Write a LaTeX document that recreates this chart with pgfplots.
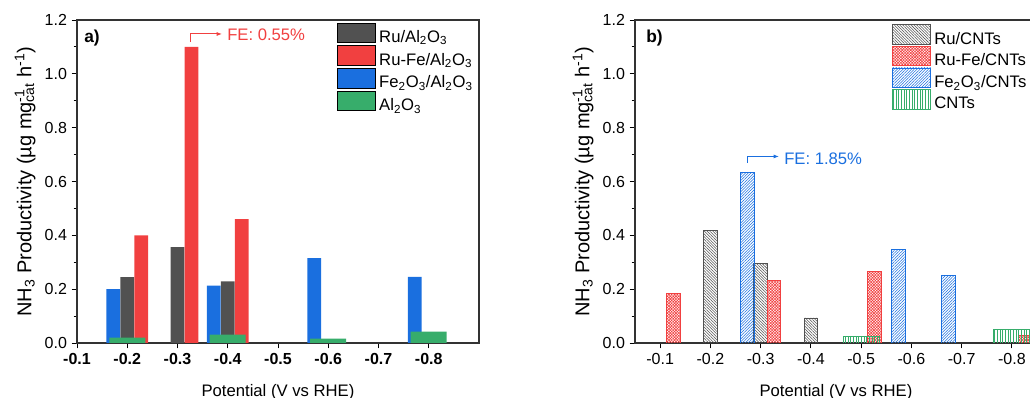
\documentclass[border=0pt]{standalone}
\usepackage{fontspec}
\setmainfont{Liberation Sans}
\usepackage{pgfplots}
\pgfplotsset{compat=1.18}
\usetikzlibrary{patterns.meta,arrows.meta}

\definecolor{cgray}{HTML}{515151}
\definecolor{cred}{HTML}{F14040}
\definecolor{cblue}{HTML}{1A6FDF}
\definecolor{cgreen}{HTML}{37AD6B}

\pgfplotsset{
  myaxis/.style={
    scale only axis, width=301.5pt, height=242.25pt,
    ymin=0, ymax=1.2, ytick={0,0.2,0.4,0.6,0.8,1.0,1.2}, minor y tick num=1,
    xtick={1,2,3,4,5,6,7,8},
    xticklabels={-0.1,-0.2,-0.3,-0.4,-0.5,-0.6,-0.7,-0.8},
    tick align=outside, xtick pos=bottom, ytick pos=left,
    major tick length=4pt, minor tick length=2.5pt,
    tick style={line width=0.7pt, black},
    axis line style={line width=0.8pt, black!80},
    /pgf/number format/assume math mode=true,
    yticklabel style={/pgf/number format/.cd, fixed, fixed zerofill, precision=1},
    ticklabel style={font=\fontsize{12}{14}\selectfont},
    xlabel={Potential (V vs RHE)},
    ylabel={NH\textsubscript{3} Productivity (µg mg\rlap{\textsuperscript{-1}}\textsubscript{cat} h\textsuperscript{-1})},
    xlabel style={font=\fontsize{12.5}{14}\selectfont, at={(axis description cs:0.5,-0.152)}, anchor=center},
    ylabel style={font=\fontsize{15}{17}\selectfont, at={(axis description cs:-0.129,0.5)}, anchor=center},
    legend cell align=left,
  },
  leg/.style={legend image code/.code={\draw[##1] (0pt,-3pt) rectangle (28.5pt,11.6pt);}},
}

\begin{document}
\begin{tikzpicture}
% ---------------- panel a ----------------
\begin{axis}[myaxis,
  at={(57.75pt,41.25pt)}, anchor=south west,
  xmin=1, xmax=9,
  xticklabel style={font=\bfseries\fontsize{12}{14}\selectfont},
  legend style={draw=none, fill=none, at={(0.647,0.993)}, anchor=north west,
    inner sep=0pt, row sep=-1.7pt, font=\fontsize{12.5}{14}\selectfont,
    nodes={inner xsep=2.5pt, inner ysep=0pt, text height=10pt, text depth=4pt}},
]
\addplot[ybar, bar width=10.3pt, bar shift=0pt, fill=cgray, draw=none, leg]
  coordinates {(2,0.245) (3,0.356) (4,0.229)};
\addlegendentry{Ru/Al\textsubscript{2}O\textsubscript{3}}
\addplot[ybar, bar width=10.3pt, bar shift=10.5pt, fill=cred, draw=none, leg]
  coordinates {(2,0.40) (3,1.10) (4,0.46)};
\addlegendentry{Ru-Fe/Al\textsubscript{2}O\textsubscript{3}}
\addplot[ybar, bar width=10.3pt, bar shift=-10.5pt, fill=cblue, draw=none, leg]
  coordinates {(2,0.20) (4,0.213) (6,0.315) (8,0.246)};
\addlegendentry{Fe\textsubscript{2}O\textsubscript{3}/Al\textsubscript{2}O\textsubscript{3}}
\addplot[ybar, bar width=27pt, bar shift=0pt, fill=cgreen, draw=none, leg]
  coordinates {(2,0.02) (4,0.031) (6,0.016) (8,0.042)};
\addlegendentry{Al\textsubscript{2}O\textsubscript{3}}
\node[anchor=west, inner sep=0pt, font=\bfseries\fontsize{13}{15}\selectfont] at (axis cs:1.14,1.133) {a)};
\draw[cred, line width=0.75pt, -{Latex[length=4pt,width=3pt]}] (axis cs:3.259,1.118) |- (axis cs:3.886,1.148);
\node[anchor=west, inner sep=0pt, text=cred, font=\fontsize{12.5}{14}\selectfont] at (axis cs:3.985,1.1444) {FE: 0.55\%};
\end{axis}
% ---------------- panel b ----------------
\begin{axis}[myaxis,
  at={(476.25pt,41.25pt)}, anchor=south west,
  xmin=0.5, xmax=8.5,
  legend style={draw=none, fill=none, at={(0.639,0.987)}, anchor=north west,
    inner sep=0pt, row sep=-2.75pt, font=\fontsize{12.5}{14}\selectfont,
    nodes={inner xsep=2.5pt, inner ysep=0pt, text height=10pt, text depth=4pt}},
]
\addplot[ybar, bar width=10.3pt, bar shift=0pt, draw=cgray, line width=0.6pt,
  pattern={Lines[angle=-45,distance=1.5pt,line width=0.4pt]}, pattern color=cgray, leg]
  coordinates {(2,0.418) (3,0.297) (4,0.093)};
\addlegendentry{Ru/CNTs}
\addplot[ybar, bar width=10.3pt, bar shift=10pt, draw=cred, line width=0.6pt,
  pattern={Hatch[angle=45,distance=1.5pt,line width=0.45pt]}, pattern color=cred, leg]
  coordinates {(1,0.185) (3,0.234) (5,0.266) (8,0.027)};
\addlegendentry{Ru-Fe/CNTs}
\addplot[ybar, bar width=10.3pt, bar shift=-10pt, draw=cblue, line width=0.6pt,
  pattern={Lines[angle=45,distance=1.5pt,line width=0.4pt]}, pattern color=cblue, leg]
  coordinates {(3,0.633) (6,0.346) (7,0.252)};
\addlegendentry{Fe\textsubscript{2}O\textsubscript{3}/CNTs}
\addplot[ybar, bar width=27pt, bar shift=0pt, draw=cgreen, line width=0.6pt,
  pattern={Lines[angle=90,distance=2pt,line width=0.4pt]}, pattern color=cgreen, leg]
  coordinates {(5,0.0235) (8,0.05)};
\addlegendentry{CNTs}
\node[anchor=west, inner sep=0pt, font=\bfseries\fontsize{13}{15}\selectfont] at (axis cs:0.72,1.133) {b)};
\draw[cblue, line width=0.75pt, -{Latex[length=4pt,width=3pt]}] (axis cs:2.743,0.669) |- (axis cs:3.366,0.693);
\node[anchor=west, inner sep=0pt, text=cblue, font=\fontsize{12.5}{14}\selectfont] at (axis cs:3.465,0.685) {FE: 1.85\%};
\end{axis}
\pgfresetboundingbox
\useasboundingbox (0,0) rectangle (772.5pt,298.5pt);
\end{tikzpicture}
\end{document}
